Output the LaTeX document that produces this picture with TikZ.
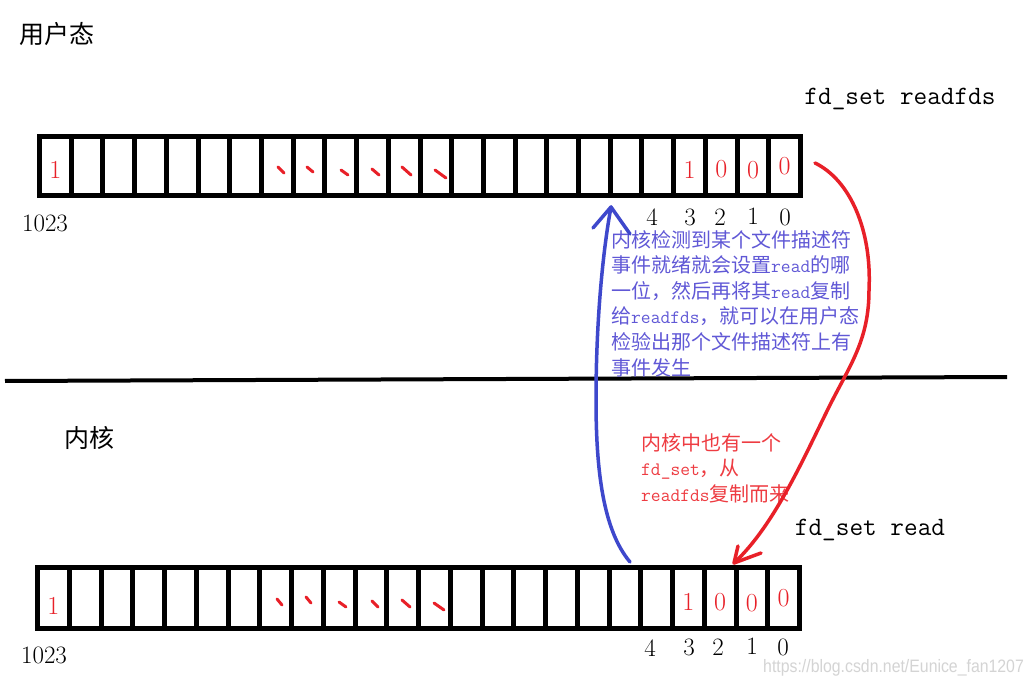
\documentclass[tikz,border=0pt]{standalone}
\usepackage{fontspec}
\newfontfamily\cjk{Noto Sans CJK SC}
\newfontfamily\wmfont{Liberation Sans}
\newcommand\mytt[1]{{\ttfamily\fontsize{19}{25.6}\selectfont #1}}
\definecolor{penred}{RGB}{232,32,40}
\definecolor{txtred}{RGB}{238,60,66}
\definecolor{penblue}{RGB}{62,72,204}
\definecolor{txtblue}{RGB}{96,88,214}
\definecolor{wmgray}{RGB}{212,212,212}
\begin{document}
\begin{tikzpicture}[x=1pt,y=-1pt,
  cell/.style={draw,line width=5pt,minimum width=31.71pt,minimum height=59pt,inner sep=0pt},
  bcell/.style={cell,minimum width=31.75pt,minimum height=61pt},
  bit/.style={text=penred,font=\fontsize{26}{26}\selectfont,inner sep=0pt},
  idx/.style={font=\fontsize{25}{25}\selectfont,inner sep=0pt},
  dotmark/.style={penred,line width=3pt,line cap=round},
  cjklabel/.style={font=\cjk\fontsize{25}{25}\selectfont,inner sep=0pt},
  mono/.style={font=\ttfamily\fontsize{26.5}{26.5}\selectfont,inner sep=0pt},
  note/.style={font=\cjk\fontsize{20}{25.6}\selectfont,align=left,inner sep=0pt,anchor=north west},
  pen/.style={line width=3.5pt,line cap=round,line join=round}]

\useasboundingbox (0,0) rectangle (1033,684);
\fill[white] (0,0) rectangle (1033,684);

% arrays
\foreach \i in {1,...,24} {
  \node[cell] (t\i) at ({39.5+31.71*(\i-0.5)},166) {};
  \node[bcell] (b\i) at ({37.5+31.75*(\i-0.5)},598) {};
}

% top bits
\node[bit] (tv1) at ([yshift=-3.5pt]t1.center) {1};
\node[bit] (tv21) at ([yshift=-3.5pt]t21.center) {1};
\node[bit] (tv22) at ([yshift=-3.5pt]t22.center) {0};
\node[bit] (tv23) at ([yshift=-4pt]t23.center) {0};
\node[bit] (tv24) at ([yshift=-0.5pt]t24.center) {0};
% bottom bits
\node[bit] (bv1) at ([yshift=-8pt]b1.center) {1};
\node[bit] (bv21) at ([yshift=-4pt]b21.center) {1};
\node[bit] (bv22) at ([yshift=-4pt]b22.center) {0};
\node[bit] (bv23) at ([yshift=-5pt]b23.center) {0};
\node[bit] (bv24) at ([yshift=0pt]b24.center) {0};

% red tick marks
\draw[dotmark] (278,167) -- (284,173);
\draw[dotmark] (307,167) -- (313,172);
\draw[dotmark] (341,170) -- (348,175);
\draw[dotmark] (372,169) -- (379,175);
\draw[dotmark] (402,167) -- (411,175);
\draw[dotmark] (435,170) -- (446,178);
\draw[dotmark] (277,599) -- (282,605);
\draw[dotmark] (306,597) -- (311,603);
\draw[dotmark] (339,602) -- (346,607);
\draw[dotmark] (372,601) -- (378,607);
\draw[dotmark] (402,600) -- (410,607);
\draw[dotmark] (434,603) -- (444,610);

% index labels
\node[idx] (tn1023) at (45,223) {1023};
\node[idx] (tn4) at (652,217) {4};
\node[idx] (tn3) at (690,217) {3};
\node[idx] (tn2) at (720,217) {2};
\node[idx] (tn1) at (753,216) {1};
\node[idx] (tn0) at (785,217) {0};
\node[idx] (bn1023) at (44,655) {1023};
\node[idx] (bn4) at (650,648) {4};
\node[idx] (bn3) at (689,647) {3};
\node[idx] (bn2) at (718,647) {2};
\node[idx] (bn1) at (752,646) {1};
\node[idx] (bn0) at (783,647) {0};

% labels
\node[cjklabel] (user) at (57,34) {用户态};
\node[cjklabel] (kern) at (89,438) {内核};
\node[mono] (rfds) at (900,99) {fd\_set readfds};
\node[mono] (rd) at (870,530) {fd\_set read};

% divider
\coordinate (dL) at (5,381);
\coordinate (dR) at (1007,377);
\draw[line width=4pt] (dL) -- (dR);

% notes
\node[note,text=txtblue] (bnote) at (611,230) {内核检测到某个文件描述符\\事件就绪就会设置\mytt{read}的哪\\一位，然后再将其\mytt{read}复制\\给\mytt{readfds}，就可以在用户态\\检验出那个文件描述符上有\\事件发生};
\node[note,text=txtred] (rnote) at (641,433) {内核中也有一个\\\mytt{fd\_set}，从\\\mytt{readfds}复制而来};

% blue arrow (kernel -> user)
\coordinate (bS) at (630,562);
\coordinate (bM) at (596,400);
\coordinate (bT) at (611,207);
\coordinate (bB1) at (593,228);
\coordinate (bB2) at (630,234);
\draw[pen,penblue] (bS) .. controls (603,530) and (596,470) .. (bM) .. controls (596,320) and (603,250) .. (bT);
\draw[pen,penblue] (bB1) -- (bT) -- (bB2);

% red arrow (user -> kernel)
\coordinate (rS) at (815,163);
\coordinate (rM1) at (869,290);
\coordinate (rM2) at (830,405);
\coordinate (rT) at (734,563);
\coordinate (rB1) at (738,546);
\coordinate (rB2) at (761,553);
\draw[pen,penred] (rS) .. controls (850,180) and (872,230) .. (rM1) .. controls (869,340) and (850,365) .. (rM2) .. controls (805,455) and (775,525) .. (rT);
\draw[pen,penred] (rB1) -- (rT) -- (rB2);

% watermark
\node[font=\wmfont\fontsize{18}{18}\selectfont,text=wmgray,anchor=base west,inner sep=0pt] (wm) at (763,672) {\scalebox{0.88}[1]{https://blog.csdn.net/Eunice\_fan1207}};
\end{tikzpicture}
\end{document}
